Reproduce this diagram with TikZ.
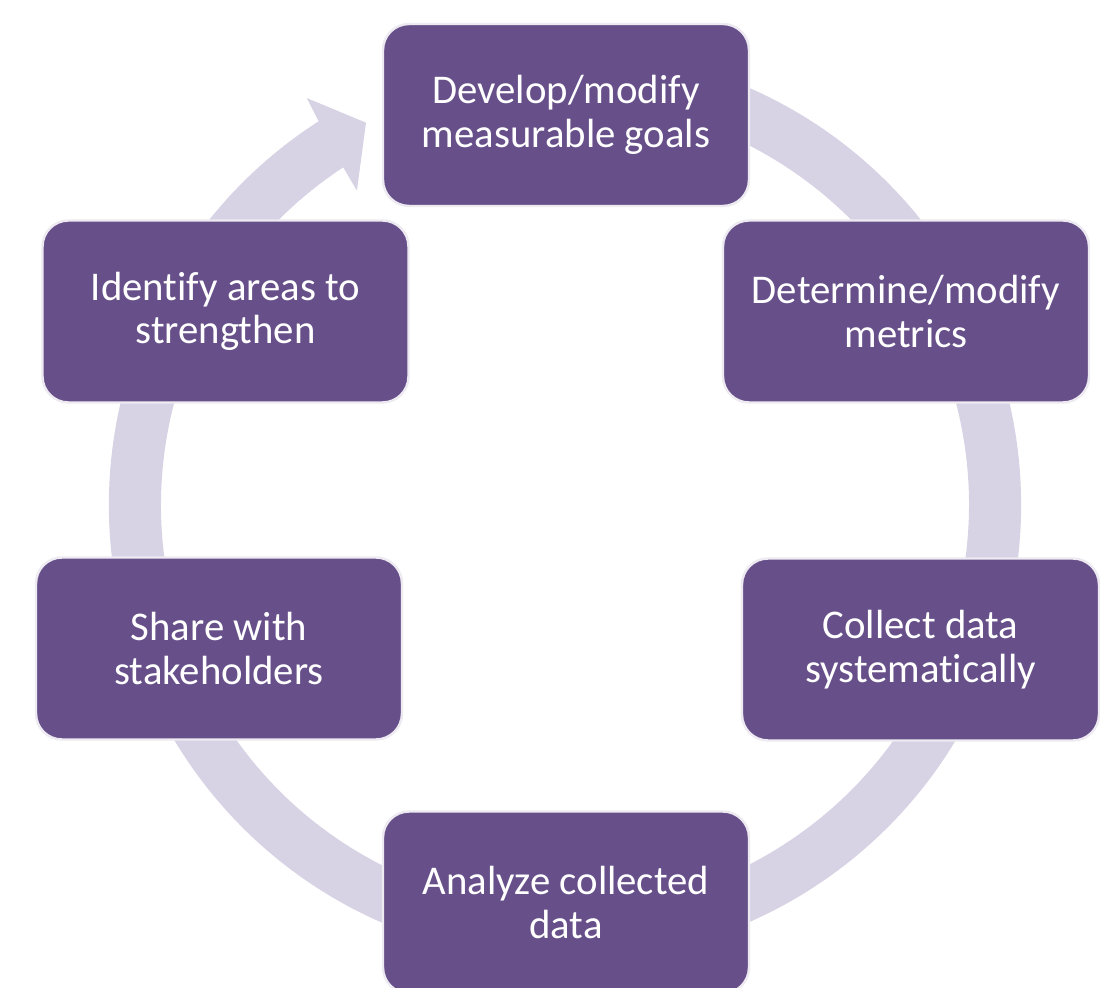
\documentclass[tikz,border=0pt]{standalone}
\usepackage{fontspec}
\setmainfont{Carlito}[Ligatures=NoCommon]
\usetikzlibrary{calc}
\definecolor{boxpurple}{HTML}{67508A}
\definecolor{ringlav}{HTML}{D7D2E4}
\begin{document}
\begin{tikzpicture}[box/.style={rounded corners=0.26cm, fill=boxpurple, draw=white!88!boxpurple, line width=0.7pt, text=white, align=center, minimum width=3.66cm, minimum height=1.82cm, font=\fontsize{11.6}{12.4}\selectfont}]
\useasboundingbox (-5.65,-4.83) rectangle (5.35,5.05);
\coordinate (O) at (0,0);
\fill[ringlav] ($(O)+(70:4.56)$) arc[start angle=70, end angle=-237.3, radius=4.56]
  -- ($(O)+(122.4:4.82)$) -- ($(O)+(117.5:4.31)$) -- ($(O)+(123.5:3.77)$)
  -- ($(O)+(123.3:4.04)$) arc[start angle=-236.7, end angle=70, radius=4.04] -- cycle;
\node[box] (develop) at (0.01,3.90) {Develop/modify\\measurable goals};
\node[box] (determine) at (3.41,1.935) {Determine/modify\\metrics};
\node[box, minimum width=3.57cm] (collect) at (3.555,-1.445) {Collect data\\systematically};
\node[box] (analyze) at (0.01,-3.975) {Analyze collected\\data};
\node[box] (share) at (-3.46,-1.435) {Share with\\stakeholders};
\node[box] (identify) at (-3.395,1.935) {Identify areas to\\strengthen};
\end{tikzpicture}
\end{document}
